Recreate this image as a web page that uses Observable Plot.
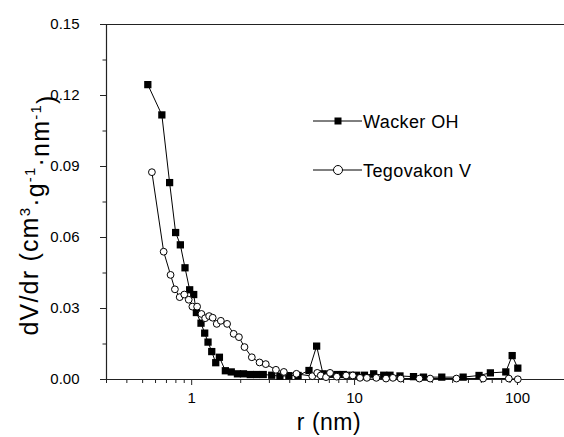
<!DOCTYPE html>
<html><head><meta charset="utf-8">
<script src="https://cdn.jsdelivr.net/npm/d3@7"></script>
<script src="https://cdn.jsdelivr.net/npm/@observablehq/plot@0.6"></script>
<style>body{margin:0;background:#fff}</style>
</head><body><div id="chart"></div>
<script>
const seriesNames = ["Wacker OH", "Tegovakon V"];
const wackerR = [0.538,0.656,0.732,0.797,0.852,0.910,0.972,1.029,1.069,1.141,1.202,1.26,1.328,1.405,1.48,1.61,1.75,1.91,2.08,2.29,2.50,2.75,3.10,3.48,3.95,4.5,5.25,5.85,6.4,7.0,7.78,8.53,9.38,10.3,11.5,13.1,15.1,16.5,19.0,23.0,26.5,34.3,46.4,58.1,68.2,84.8,92.8,100.5];
const wackerV = [0.1246,0.1118,0.0832,0.0621,0.0569,0.0472,0.0379,0.0359,0.0283,0.0238,0.0196,0.0158,0.0118,0.0071,0.0094,0.0037,0.0032,0.0024,0.0024,0.0021,0.0021,0.0021,0.0018,0.0014,0.0016,0.0017,0.0038,0.0141,0.0024,0.0022,0.0021,0.0021,0.0018,0.0018,0.0018,0.0024,0.0018,0.0018,0.0015,0.0012,0.0010,0.0010,0.0010,0.0017,0.0028,0.0032,0.0101,0.0048];
const tegoR = [0.570,0.673,0.742,0.789,0.844,0.901,0.959,1.01,1.08,1.148,1.21,1.28,1.346,1.425,1.51,1.65,1.81,1.95,2.11,2.34,2.61,2.85,3.29,3.68,4.4,5.5,5.9,6.2,6.68,7.07,7.78,8.87,9.75,10.8,11.9,13.6,15.6,17.2,19.2,25.0,29.1,42.2,61.5,88.5,100.5];
const tegoV = [0.0876,0.0540,0.0442,0.0381,0.0348,0.0359,0.0337,0.0308,0.0308,0.0277,0.0259,0.0268,0.0261,0.0235,0.0248,0.0235,0.0193,0.0179,0.0137,0.0094,0.0072,0.0065,0.0041,0.0032,0.0024,0.0014,0.0028,0.0017,0.0010,0.0028,0.0012,0.0017,0.0017,0.0007,0.0007,0.0007,0.0004,0.0007,0.0004,0.0004,0.0004,0.0004,0.0004,0.0004,0.0001];
const yTicks = [0, 0.03, 0.06, 0.09, 0.12, 0.15];
const yMinor = [0.015, 0.045, 0.075, 0.105, 0.135];
const xTicks = [1, 10, 100];
const xMinor = [0.3,0.4,0.5,0.6,0.7,0.8,0.9,2,3,4,5,6,7,8,9,20,30,40,50,60,70,80,90];
const xLabel = "r (nm)";

const wacker = wackerR.map((r, i) => ({r, v: wackerV[i]}));
const tego = tegoR.map((r, i) => ({r, v: tegoV[i]}));
const font = "'Liberation Sans', Arial, Helvetica, sans-serif";
const axisColor = "#222";

const plot = Plot.plot({
  width: 564, height: 437,
  marginLeft: 106, marginRight: 0, marginTop: 24, marginBottom: 58,
  style: {fontFamily: font, fontSize: "15px", color: "#000", background: "#fff"},
  x: {type: "log", domain: [0.3, 200], range: [106, 566]},
  y: {domain: [0, 0.15]},
  marks: [
    Plot.axisY(yTicks, {tickSize: 6, tickPadding: 21, tickFormat: d3.format(".2f"), label: null, stroke: axisColor, fontSize: 15}),
    Plot.axisY(yMinor, {tickSize: 3.5, text: null, label: null, stroke: axisColor}),
    Plot.axisX(xTicks, {tickSize: 6, tickPadding: 7, tickFormat: d => String(d), label: null, stroke: axisColor, fontSize: 15}),
    Plot.axisX(xMinor, {tickSize: 4, text: null, label: null, stroke: axisColor}),
    Plot.ruleY([0, 0.15], {stroke: axisColor, strokeWidth: 1.2}),
    Plot.ruleX([0.3], {stroke: axisColor, strokeWidth: 1.2}),
    Plot.line(wacker, {x: "r", y: "v", stroke: "#000", strokeWidth: 1}),
    Plot.dot(wacker, {x: "r", y: "v", symbol: "square", r: 4.1, fill: "#000", stroke: "none"}),
    Plot.line(tego, {x: "r", y: "v", stroke: "#000", strokeWidth: 1}),
    Plot.dot(tego, {x: "r", y: "v", symbol: "circle", r: 3.4, fill: "#fff", stroke: "#000", strokeWidth: 1})
  ]
});
document.getElementById("chart").appendChild(plot);

const svg = d3.select(plot);
// x axis label
svg.append("text").attr("x", 329).attr("y", 430).attr("text-anchor", "middle")
  .attr("font-family", font).attr("font-size", 23).attr("letter-spacing", 0.5).attr("fill", "#000").text(xLabel);
// y axis label with superscripts
const yl = svg.append("text").attr("transform", "translate(38,215) rotate(-90)")
  .attr("text-anchor", "middle").attr("font-family", font).attr("font-size", 25)
  .attr("letter-spacing", 1.2).attr("fill", "#000");
const parts = [["dV/dr (cm", 0], ["3", 1], ["·g", 0], ["-1", 1], ["·nm", 0], ["-1", 1], [")", 0]];
let sup = false;
for (const [t, s] of parts) {
  const ts = yl.append("tspan").text(t);
  if (s && !sup) { ts.attr("dy", "-0.55em").attr("font-size", 15); sup = true; }
  else if (!s && sup) { ts.attr("dy", "0.55em"); sup = false; }
  else if (s) ts.attr("font-size", 15);
}
// legend
const leg = svg.append("g").attr("font-family", font).attr("font-size", 18).attr("text-anchor", "start");
const rows = [{y: 121, name: seriesNames[0], sq: true}, {y: 170, name: seriesNames[1], sq: false}];
for (const row of rows) {
  leg.append("line").attr("x1", 313).attr("x2", 362).attr("y1", row.y).attr("y2", row.y).attr("stroke", "#000");
  if (row.sq) leg.append("rect").attr("x", 334.5).attr("y", row.y - 3.5).attr("width", 7).attr("height", 7).attr("fill", "#000");
  else leg.append("circle").attr("cx", 338).attr("cy", row.y).attr("r", 4.5).attr("fill", "#fff").attr("stroke", "#000");
  leg.append("text").attr("x", 363).attr("y", row.y + 6.5).attr("fill", "#000").attr("letter-spacing", 0.4)
    .attr("text-anchor", "start").text(row.name);
}
</script></body></html>
